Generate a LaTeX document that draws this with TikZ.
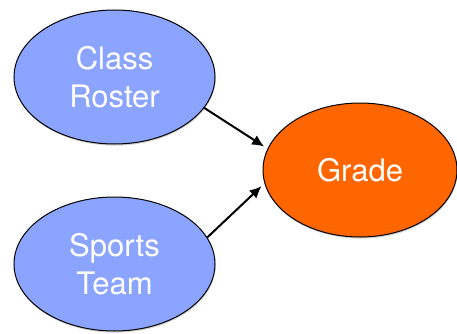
\documentclass[tikz,border=0pt]{standalone}
\usepackage{fontspec}
\setmainfont{TeX Gyre Heros}
\usetikzlibrary{arrows.meta,shapes.geometric,shadows}
\definecolor{inputblue}{RGB}{138,164,255}
\definecolor{gradeorange}{RGB}{255,102,0}

\begin{document}
\begin{tikzpicture}[
    x=1pt, y=1pt,
    blob/.style={ellipse, draw, line width=1pt, inner sep=0pt, align=center,
                 text=white, font=\fontsize{31}{38}\selectfont,
                 drop shadow={shadow xshift=0.6pt, shadow yshift=-1.6pt, opacity=0.35}},
    inputnode/.style={blob, fill=inputblue, minimum width=201pt, minimum height=134pt},
    outputnode/.style={blob, fill=gradeorange, minimum width=194pt, minimum height=134pt},
    arrow/.style={-{Latex[length=12pt, width=11pt]}, line width=2pt, shorten >=4pt}
]
  \useasboundingbox (0,0) rectangle (457,333);
  \node[inputnode] (roster) at (114.5,256) {Class\\Roster};
  \node[inputnode] (team) at (114.5,69) {Sports\\Team};
  \node[outputnode] (grade) at (360,163) {Grade};

  \draw[arrow] (roster.-19) -- (grade.167);
  \draw[arrow] (team.16) -- (grade.188);
\end{tikzpicture}
\end{document}
